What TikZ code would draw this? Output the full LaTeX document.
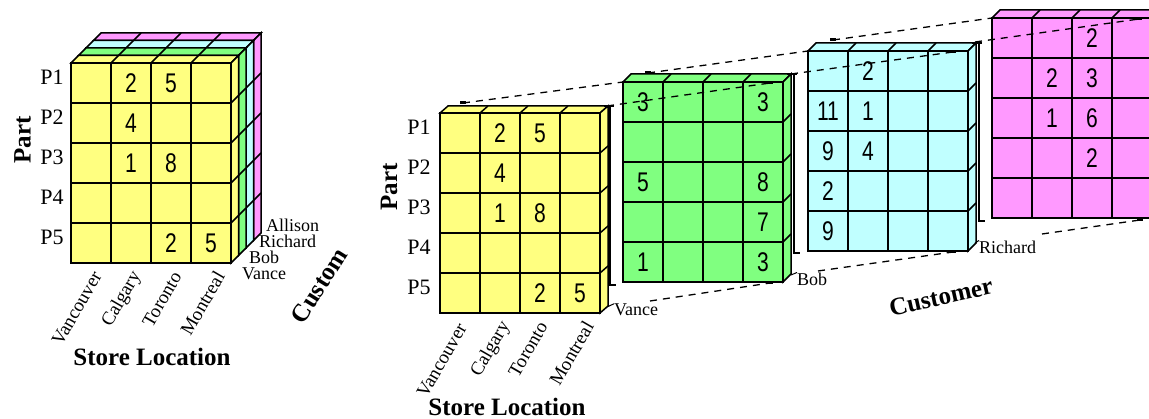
\documentclass[tikz,border=0pt]{standalone}
\usepackage{fontspec}
\usepackage{graphicx}
\setmainfont{Liberation Serif}
\newfontfamily\digitfont{Liberation Sans}
\usetikzlibrary{calc}
\definecolor{cyel}{HTML}{FFFF80}
\definecolor{cgrn}{HTML}{80FF80}
\definecolor{ccya}{HTML}{C0FFFF}
\definecolor{cpnk}{HTML}{FF99FF}
\tikzset{
  gridline/.style={line width=1.5pt, line join=miter},
  num/.style={font=\digitfont\fontsize{27}{27}\selectfont, inner sep=0pt},
  plabel/.style={font=\fontsize{22}{22}\selectfont, inner sep=0pt},
  axislabel/.style={font=\bfseries\fontsize{25}{25}\selectfont, inner sep=0pt},
  smalllabel/.style={font=\fontsize{18}{18}\selectfont, inner sep=0pt, anchor=west},
  collabel/.style={font=\fontsize{19}{19}\selectfont, inner sep=0pt, rotate=60, anchor=east},
  guide/.style={line width=1.3pt, dash pattern=on 7pt off 6pt},
  bracket/.style={line width=1.2pt},
}
\newcommand{\slabbox}[5]{%
  \begin{scope}[shift={(#1,#2)}, gridline]
    \filldraw[fill=#5] (0,0) -- (#3,#4) -- ({160+#3},#4) -- (160,0) -- cycle;
    \foreach \c in {40,80,120} \draw (\c,0) -- ({\c+#3},#4);
    \filldraw[fill=#5] (160,0) -- ({160+#3},#4) -- ({160+#3},{200+#4}) -- (160,200) -- cycle;
    \foreach \r in {40,80,120,160} \draw (160,\r) -- ({160+#3},{\r+#4});
    \filldraw[fill=#5] (0,0) rectangle (160,200);
    \foreach \c in {40,80,120} \draw (\c,0) -- (\c,200);
    \foreach \r in {40,80,120,160} \draw (0,\r) -- (160,\r);
  \end{scope}}
\newcommand{\cnum}[4]{\node[num] (#1-#2-#3) at ($(#1)+({40*#2-20},{40*#3-20})$) {\scalebox{0.78}[1]{#4}};}
\newcommand{\dmark}[1]{\fill (#1) ++(-3,-1.5) rectangle ++(6,3);}
\begin{document}
\begin{tikzpicture}[x=1pt,y=-1pt]
\useasboundingbox (0,0) rectangle (1149,419);
\clip (0,0) rectangle (1149,419);
\fill[white] (0,0) rectangle (1149,419);

% ---------- left cube ----------
\coordinate (LP) at (93.5,40.5);
\coordinate (LC) at (86,48);
\coordinate (LG) at (78.5,55.5);
\coordinate (LY) at (71,63);
\slabbox{93.5}{40.5}{7.5}{-7.5}{cpnk}
\slabbox{86}{48}{7.5}{-7.5}{ccya}
\slabbox{78.5}{55.5}{7.5}{-7.5}{cgrn}
\slabbox{71}{63}{7.5}{-7.5}{cyel}
\cnum{LY}{2}{1}{2}\cnum{LY}{3}{1}{5}
\cnum{LY}{2}{2}{4}
\cnum{LY}{2}{3}{1}\cnum{LY}{3}{3}{8}
\cnum{LY}{3}{5}{2}\cnum{LY}{4}{5}{5}

\node[plabel] (lp1) at (52,77) {P1};
\node[plabel] (lp2) at (52,117) {P2};
\node[plabel] (lp3) at (52,157) {P3};
\node[plabel] (lp4) at (52,197) {P4};
\node[plabel] (lp5) at (52,237) {P5};
\node[axislabel, rotate=90] (lpart) at (22.5,140) {Part};

\node[collabel] (lcol1) at (97,273) {Vancouver};
\node[collabel] (lcol2) at (137,273) {Calgary};
\node[collabel] (lcol3) at (177,273) {Toronto};
\node[collabel] (lcol4) at (220,273) {Montreal};
\node[axislabel] (lstore) at (152,357) {Store Location};

\node[smalllabel] (lvance) at (242,274) {Vance};
\node[smalllabel] (lbob) at (249,257) {Bob};
\node[smalllabel] (lrichard) at (259,241) {Richard};
\node[smalllabel] (lallison) at (266,225) {Allison};
\node[axislabel, rotate=58, anchor=west] (lcust) at (297,321) {Custom};

% ---------- right exploded view ----------
\coordinate (RP) at (992,18);
\coordinate (RC) at (808,51);
\coordinate (RG) at (623,82);
\coordinate (RY) at (440,113);
\slabbox{992}{18}{8}{-8}{cpnk}
\slabbox{808}{51}{8}{-8}{ccya}
\slabbox{623}{82}{8}{-8}{cgrn}
\slabbox{440}{113}{8}{-7}{cyel}

% brackets at the back right edges
\draw[bracket] (604,106) -- (614,106);
\draw[bracket] (610,106) -- (610,285) -- (616,285);
\draw[bracket] (787,74) -- (797,74);
\draw[bracket] (794,74) -- (794,253) -- (800,253);
\draw[bracket] (972,43) -- (982,43);
\draw[bracket] (979,43) -- (979,221) -- (985,221);

\cnum{RY}{2}{1}{2}\cnum{RY}{3}{1}{5}
\cnum{RY}{2}{2}{4}
\cnum{RY}{2}{3}{1}\cnum{RY}{3}{3}{8}
\cnum{RY}{3}{5}{2}\cnum{RY}{4}{5}{5}

\cnum{RG}{1}{1}{3}\cnum{RG}{4}{1}{3}
\cnum{RG}{1}{3}{5}\cnum{RG}{4}{3}{8}
\cnum{RG}{4}{4}{7}
\cnum{RG}{1}{5}{1}\cnum{RG}{4}{5}{3}

\cnum{RC}{2}{1}{2}
\cnum{RC}{1}{2}{11}\cnum{RC}{2}{2}{1}
\cnum{RC}{1}{3}{9}\cnum{RC}{2}{3}{4}
\cnum{RC}{1}{4}{2}
\cnum{RC}{1}{5}{9}

\cnum{RP}{3}{1}{2}
\cnum{RP}{2}{2}{2}\cnum{RP}{3}{2}{3}
\cnum{RP}{2}{3}{1}\cnum{RP}{3}{3}{6}
\cnum{RP}{3}{4}{2}

% guide lines
\coordinate (t1a) at (463,103); \coordinate (t1b) at (623,82);
\coordinate (t2a) at (648,73);  \coordinate (t2b) at (808,51);
\coordinate (t3a) at (833,40);  \coordinate (t3b) at (992,18);
\coordinate (r1a) at (607,106); \coordinate (r1b) at (770,83);
\coordinate (r2a) at (791,74);  \coordinate (r2b) at (953,52);
\coordinate (r3a) at (975,42);  \coordinate (r3b) at (1139,19);
\coordinate (b1a) at (650,301); \coordinate (b1b) at (770,283);
\coordinate (b2a) at (818,271); \coordinate (b2b) at (953,252);
\coordinate (b3a) at (1042,234); \coordinate (b3b) at (1140,220);
\foreach \p in {t1,t2,t3,r1,r2,r3,b1,b2,b3} \draw[guide] (\p a) -- (\p b);
\dmark{t1a}\dmark{t2a}\dmark{t3a}
\dmark{r1b}\dmark{r2b}\dmark{r3b}
\dmark{b1b}\dmark{b2b}\dmark{b3b}

\node[plabel] (rp1) at (419,127) {P1};
\node[plabel] (rp2) at (419,167) {P2};
\node[plabel] (rp3) at (419,207) {P3};
\node[plabel] (rp4) at (419,247) {P4};
\node[plabel] (rp5) at (419,287) {P5};
\node[axislabel, rotate=90] (rpart) at (389,187) {Part};

\node[collabel] (rcol1) at (462,325) {Vancouver};
\node[collabel] (rcol2) at (506,323) {Calgary};
\node[collabel] (rcol3) at (543,323) {Toronto};
\node[collabel] (rcol4) at (589,323) {Montreal};
\node[axislabel] (rstore) at (507,407) {Store Location};

\coordinate (vt) at (607,307); \coordinate (bt) at (791,275); \coordinate (rt) at (975,243);
\node[smalllabel] (rvance) at (614,310) {Vance};
\node[smalllabel] (rbob) at (797,279) {Bob};
\node[smalllabel] (rrichard) at (979,247) {Richard};
\draw[line width=1pt] (vt) -- (rvance.north west);
\draw[line width=1pt] (bt) -- (rbob.north west);
\draw[line width=1pt] (rt) -- (rrichard.north west);
\node[axislabel, rotate=12.5] (rcust) at (941,297) {Customer};
\end{tikzpicture}
\end{document}
